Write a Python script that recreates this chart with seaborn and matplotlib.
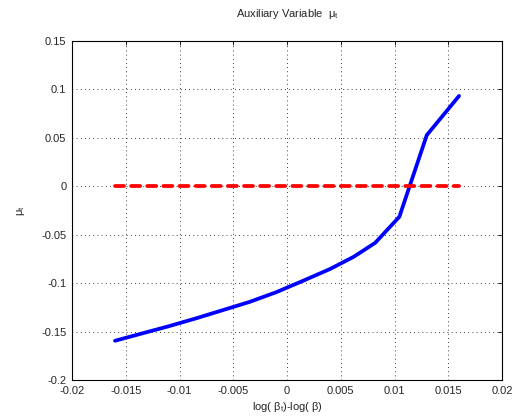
import numpy as np
import pandas as pd
import matplotlib
matplotlib.use("Agg")
import matplotlib.pyplot as plt
import seaborn as sns

# log(beta_t) - log(beta) grid and the auxiliary variable mu_t
x_vals = [-0.0160, -0.0135, -0.0110, -0.0085, -0.0060, -0.0035, -0.0010,
          0.0015, 0.0040, 0.0062, 0.0082, 0.01045, 0.0130, 0.0160]
mu_vals = [-0.1595, -0.1520, -0.1445, -0.1365, -0.1280, -0.1195, -0.1094,
           -0.0976, -0.0855, -0.0729, -0.0585, -0.0316, 0.0526, 0.0930]
zero_x = [-0.0160, 0.0160]
zero_y = [0.0, 0.0]

x_ticks = [-0.02, -0.015, -0.01, -0.005, 0, 0.005, 0.01, 0.015, 0.02]
x_tick_labels = ["-0.02", "-0.015", "-0.01", "-0.005", "0", "0.005", "0.01", "0.015", "0.02"]
y_ticks = [-0.2, -0.15, -0.1, -0.05, 0, 0.05, 0.1, 0.15]
y_tick_labels = ["-0.2", "-0.15", "-0.1", "-0.05", "0", "0.05", "0.1", "0.15"]

sns.set_style("white")
plt.rcParams["font.family"] = ["Liberation Sans", "DejaVu Sans"]
plt.rcParams["mathtext.fontset"] = "custom"
plt.rcParams["mathtext.rm"] = "Liberation Sans"
plt.rcParams["mathtext.it"] = "Liberation Sans"

fig = plt.figure(figsize=(5.13, 4.16), dpi=100)
ax = fig.add_axes([0.1404, 0.0865, 0.8382, 0.8156])

curve = pd.DataFrame({"x": x_vals, "mu": mu_vals})
zero = pd.DataFrame({"x": zero_x, "mu": zero_y})

sns.lineplot(data=curve, x="x", y="mu", ax=ax, color="#0000ff", linewidth=2.7,
             sort=False, estimator=None)
sns.lineplot(data=zero, x="x", y="mu", ax=ax, color="#ff0000", linewidth=2.7,
             sort=False, estimator=None, dashes=False)
red = ax.lines[-1]
red.set_linestyle((0, (2.4, 1.9)))
red.set_dash_capstyle("round")

ax.set_xlim(-0.02, 0.02)
ax.set_ylim(-0.2, 0.15)
ax.set_xticks(x_ticks)
ax.set_xticklabels(x_tick_labels)
ax.set_yticks(y_ticks)
ax.set_yticklabels(y_tick_labels)
ax.tick_params(direction="in", length=3, width=0.6, labelsize=8, color="black",
               top=True, right=True, pad=4)
ax.grid(True, color="black", linestyle=(0, (1, 4)), linewidth=0.6)
for s in ax.spines.values():
    s.set_visible(True)
    s.set_color("black")
    s.set_linewidth(0.8)

ax.set_title(r"Auxiliary Variable  $\mu_{\mathrm{t}}$", fontsize=8, pad=17)
ax.set_xlabel(r"log( $\beta_{\mathrm{t}}$)-log( $\beta$)", fontsize=8, labelpad=3)
ax.set_ylabel(r"$\mu_{\mathrm{t}}$", fontsize=8, labelpad=10)

fig.savefig("out.png", dpi=100)
